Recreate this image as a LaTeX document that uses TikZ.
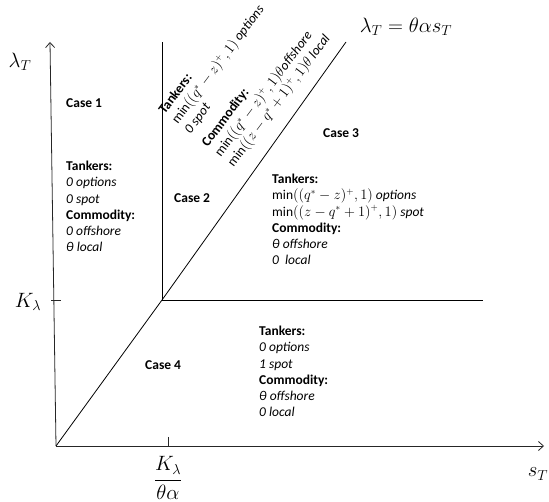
\documentclass[tikz,border=0pt]{standalone}
\usepackage{fontspec}
\setmainfont{Carlito}
\usetikzlibrary{arrows.meta}
\lineskiplimit=-20pt
\begin{document}
\begin{tikzpicture}[x=1pt,y=-1pt,
  ax/.style={line width=0.8pt, draw=black!85},
  ln/.style={line width=0.8pt, draw=black},
  tip/.style={-{Straight Barb[length=5pt,width=9pt,line width=0.8pt]}},
  txt/.style={inner sep=0pt, font=\fontsize{13.5}{16.2}\selectfont, align=left, anchor=north west},
  casel/.style={inner sep=0pt, font=\fontsize{13.5}{16.2}\selectfont\bfseries, anchor=west},
  mth/.style={inner sep=0pt, font=\fontsize{21}{25}\selectfont}]
\useasboundingbox (0,0) rectangle (549,502);
% key points
\coordinate (O) at (56,446);
\coordinate (Ytop) at (50,42);
\coordinate (Xend) at (544,446);
\coordinate (P) at (162,300);
\coordinate (Vtop) at (162,42);
\coordinate (Hend) at (483,300);
\coordinate (Dtop) at (346,42);
\coordinate (YtickL) at (51,300);
\coordinate (YtickR) at (61,300);
\coordinate (XtickT) at (168,437);
\coordinate (XtickB) at (168,446);
% axes
\draw[ax,tip] (O) -- (Ytop);
\draw[ax,tip] (O) -- (Xend);
\draw[ax] (YtickL) -- (YtickR);
\draw[ax] (XtickT) -- (XtickB);
% boundaries
\draw[ln] (O) -- (P) -- (Dtop);
\draw[ln] (P) -- (Vtop);
\draw[ln] (P) -- (Hend);
% axis labels
\node[mth] (lamT) at (20,62) {$\lambda_T$};
\node[mth] (sT) at (538,474) {$s_T$};
\node[mth] (Kl) at (28,302) {$K_\lambda$};
\node[mth] (Kfrac) at (168,478) {$\displaystyle\frac{K_\lambda}{\theta\alpha}$};
\node[mth] (dlab) at (406,27) {$\lambda_T=\theta\alpha s_T$};
% cases
\node[casel] (c1) at (66,103) {Case 1};
\node[casel] (c2) at (174,198) {Case 2};
\node[casel] (c3) at (323,133) {Case 3};
\node[casel] (c4) at (145,365) {Case 4};
% case texts
\node[txt] (t1) at (66,161) {\textbf{Tankers:}\\ \textit{0 options}\\ \textit{0 spot}\\ \textbf{Commodity:}\\ \textit{0 offshore}\\ \textit{θ local}};
\node[txt] (t3) at (272,174) {\textbf{Tankers:}\\ $\min((q^*-z)^+,1)$ \textit{options}\\ $\min\bigl((z-q^*+1)^+,1\bigr)$ \textit{spot}\\ \textbf{Commodity:}\\ \textit{θ offshore}\\ \textit{0\ \ local}};
\node[txt] (t4) at (259,326) {\textbf{Tankers:}\\ \textit{0 options}\\ \textit{1 spot}\\ \textbf{Commodity:}\\ \textit{θ offshore}\\ \textit{0 local}};
\node[txt,rotate=53] (r1) at (157,109) {\textbf{Tankers:}\\ $\min((q^*-z)^+,1)$ \textit{options}\\ \textit{0 spot}};
\node[txt,rotate=53] (r2) at (200,142) {\textbf{Commodity:}\\ $\min((q^*-z)^+,1)\theta$\textit{offshore}\\ $\min\bigl((z-q^*+1)^+,1\bigr)\theta$ \textit{local}};
\end{tikzpicture}
\end{document}
